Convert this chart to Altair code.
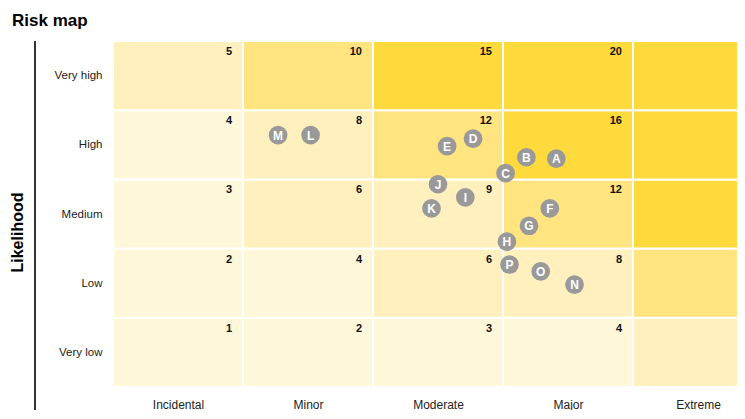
import altair as alt
import pandas as pd

impacts = ["Incidental", "Minor", "Moderate", "Major", "Extreme"]
likelihoods = ["Very low", "Low", "Medium", "High", "Very high"]
# scores[row][col], row 0 = Very low, col 0 = Incidental
scores = [
    [1, 2, 3, 4, 5],
    [2, 4, 6, 8, 10],
    [3, 6, 9, 12, 15],
    [4, 8, 12, 16, 20],
    [5, 10, 15, 20, 25],
]
level_breaks = [5, 10, 15]
level_colors = ["#fff7d9", "#fff0be", "#ffe47f", "#ffda3c"]

risk_labels = ["A", "B", "C", "D", "E", "F", "G", "H", "I", "J", "K", "L", "M", "N", "O", "P"]
risk_impact = [3.41, 3.18, 3.02, 2.77, 2.57, 3.36, 3.20, 3.03, 2.71, 2.50, 2.45, 1.52, 1.27, 3.55, 3.29, 3.05]
risk_likelihood = [3.30, 3.32, 3.09, 3.59, 3.48, 2.58, 2.33, 2.10, 2.74, 2.93, 2.58, 3.64, 3.64, 1.48, 1.67, 1.77]

rows = []
for r, lk in enumerate(likelihoods):
    for c, im in enumerate(impacts):
        rows.append({"x0": c, "x1": c + 1, "y0": r, "y1": r + 1, "score": scores[r][c]})
cells = pd.DataFrame(rows)
risks = pd.DataFrame({"label": risk_labels, "x": risk_impact, "y": risk_likelihood})

FONT = "Liberation Sans"
xs = alt.Scale(domain=[0, 5], range=[0, 650], nice=False, zero=False)
ys = alt.Scale(domain=[0, 5], nice=False, zero=False)


def label_expr(names):
    expr = "'%s'" % names[-1]
    for i in range(len(names) - 2, -1, -1):
        expr = "datum.value < %d ? '%s' : (%s)" % (i + 1, names[i], expr)
    return expr


x_axis = alt.Axis(
    values=[0.5, 1.5, 2.5, 3.5, 4.5], labelExpr=label_expr(impacts), title=None,
    ticks=False, domain=False, grid=False, labelPadding=12,
    labelFontSize=12, labelColor="#222222", labelFont=FONT)
y_axis = alt.Axis(
    values=[0.5, 1.5, 2.5, 3.5, 4.5], labelExpr=label_expr(likelihoods), title="Likelihood",
    ticks=False, domain=False, grid=False, labelPadding=11,
    labelFontSize=11.5, labelColor="#222222", labelFont=FONT,
    titleFont=FONT, titleFontSize=16, titleFontWeight="bold", titleColor="#000000",
    titleX=-96, titleY=191, titleAngle=270, titleAlign="center", titleBaseline="middle")

rects = alt.Chart(cells).mark_rect(stroke="white", strokeWidth=2).encode(
    x=alt.X("x0:Q", scale=xs, axis=x_axis),
    x2="x1:Q",
    y=alt.Y("y0:Q", scale=ys, axis=y_axis),
    y2="y1:Q",
    color=alt.Color("score:Q", scale=alt.Scale(type="threshold", domain=level_breaks, range=level_colors), legend=None),
)

nums = alt.Chart(cells).mark_text(
    align="right", baseline="alphabetic", dx=-11, dy=14,
    fontSize=11, fontWeight="bold", font=FONT, color="#111111"
).encode(
    x=alt.X("x1:Q", scale=xs, axis=x_axis),
    y=alt.Y("y1:Q", scale=ys, axis=y_axis),
    text="score:Q",
)

dots = alt.Chart(risks).mark_circle(size=350, opacity=1, color="#999999").encode(
    x=alt.X("x:Q", scale=xs, axis=x_axis),
    y=alt.Y("y:Q", scale=ys, axis=y_axis),
)

letters = alt.Chart(risks).mark_text(
    align="center", baseline="middle", dy=0.5, fontSize=12, fontWeight="bold", font=FONT, color="white"
).encode(
    x=alt.X("x:Q", scale=xs, axis=x_axis),
    y=alt.Y("y:Q", scale=ys, axis=y_axis),
    text="label:N",
)

rule = alt.Chart(pd.DataFrame({"a": [0]})).mark_rule(color="black", strokeWidth=1.6).encode(
    x=alt.value(-78), y=alt.value(0), y2=alt.value(400)
)

chart = alt.layer(rects, nums, dots, letters, rule).properties(
    width=624,
    height=346,
    title=alt.TitleParams("Risk map", anchor="start", frame="group", dx=-101, offset=10,
                          fontSize=17, fontWeight="bold", font=FONT, color="#000000"),
    autosize=alt.AutoSizeParams(type="none"),
    padding={"left": 105, "top": 33, "right": 0, "bottom": 23},
).configure_view(stroke=None)

chart.save("out.html", embed_options={"renderer": "svg", "actions": False})
